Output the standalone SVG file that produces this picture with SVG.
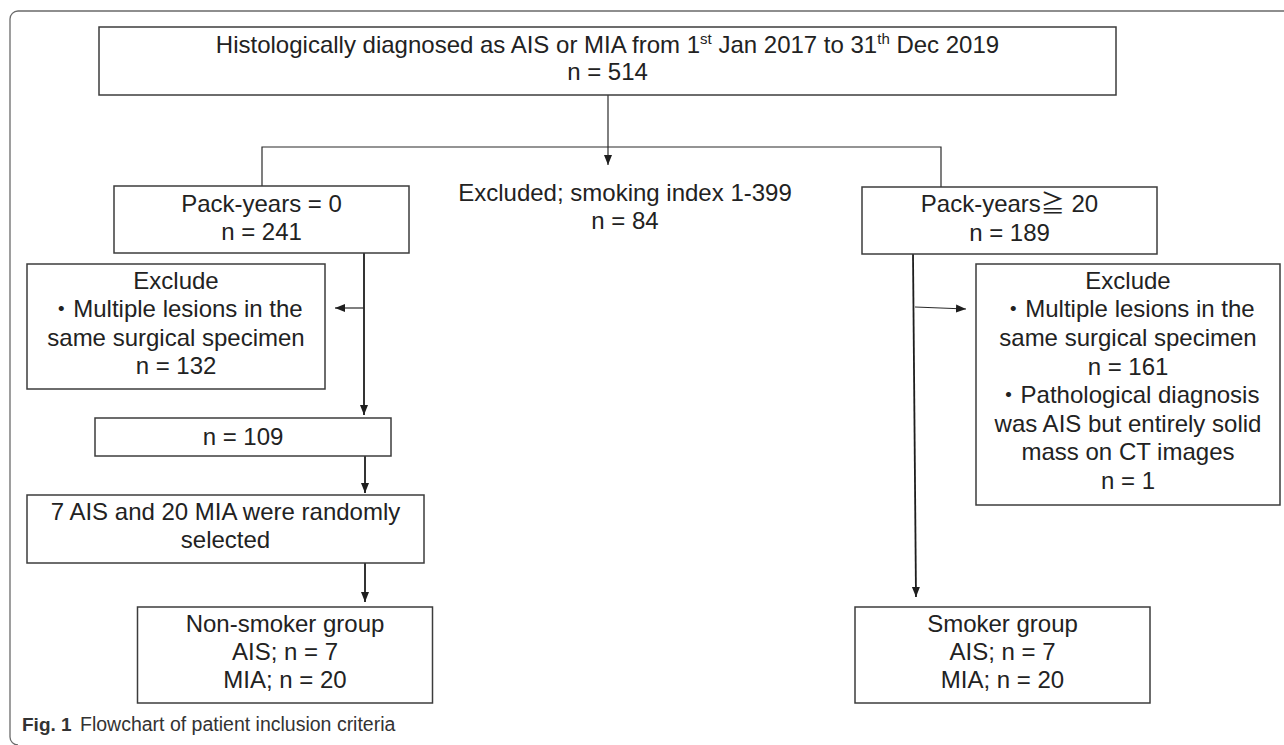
<svg xmlns="http://www.w3.org/2000/svg" width="1284" height="745" viewBox="0 0 1284 745">
  <style>
    .box { fill: #ffffff; stroke: #3c3c3c; stroke-width: 1.5; }
    .frame { fill: none; stroke: #6a6a6a; stroke-width: 1.3; }
    .edge { fill: none; stroke: #1e1e1e; stroke-width: 1.8; }
    .thin { fill: none; stroke: #2a2a2a; stroke-width: 1.2; }
    .t { font-family: "Liberation Sans", "Noto Sans CJK JP", sans-serif; font-size: 24px; fill: #222222; text-anchor: middle; }
    .cap { font-family: "Liberation Sans", "Noto Sans", sans-serif; font-size: 19.5px; fill: #333333; }
    .capb { font-family: "Liberation Sans", "Noto Sans", sans-serif; font-size: 19px; font-weight: bold; fill: #333333; }
  </style>
  <defs>
    <marker id="arrow" markerUnits="userSpaceOnUse" markerWidth="10" markerHeight="10" viewBox="0 0 10 10" refX="10" refY="5" orient="auto">
      <path d="M0,1 L10,5 L0,9 Z" fill="#1e1e1e"/>
    </marker>
  </defs>

  <rect width="1284" height="745" fill="#ffffff"/>
  <path class="frame" d="M1284,11 H18 A8,8 0 0 0 10,19 V737 A8,8 0 0 0 18,745"/>

  <g id="connectors">
    <line class="thin" x1="608" y1="95" x2="608" y2="165" marker-end="url(#arrow)"/>
    <polyline class="thin" points="262,186 262,147 941,147 941,187"/>
    <line class="edge" x1="364" y1="253" x2="364" y2="415" marker-end="url(#arrow)"/>
    <line class="thin" x1="364" y1="308" x2="335" y2="308" marker-end="url(#arrow)"/>
    <line class="edge" x1="365" y1="456" x2="365" y2="493" marker-end="url(#arrow)"/>
    <line class="edge" x1="365" y1="563" x2="365" y2="602" marker-end="url(#arrow)"/>
    <line class="edge" x1="913" y1="254" x2="916" y2="597" marker-end="url(#arrow)"/>
    <line class="thin" x1="915" y1="307" x2="966" y2="309" marker-end="url(#arrow)"/>
  </g>

  <g id="node-all">
    <rect class="box" x="99" y="27" width="1017" height="68"/>
    <text class="t" x="607.5" y="53">Histologically diagnosed as AIS or MIA from 1<tspan font-size="15" dy="-9">st</tspan><tspan dy="9"> Jan 2017 to 31</tspan><tspan font-size="15" dy="-9">th</tspan><tspan dy="9"> Dec 2019</tspan></text>
    <text class="t" x="607.5" y="80">n = 514</text>
  </g>

  <g id="node-nonsmoker-initial">
    <rect class="box" x="114" y="186" width="295" height="67"/>
    <text class="t" x="261.5" y="212">Pack-years = 0</text>
    <text class="t" x="261.5" y="240">n = 241</text>
  </g>

  <g id="node-excluded-index">
    <text class="t" x="625" y="201">Excluded; smoking index 1-399</text>
    <text class="t" x="625" y="229">n = 84</text>
  </g>

  <g id="node-smoker-initial">
    <rect class="box" x="862" y="187" width="295" height="67"/>
    <text class="t" x="1009.5" y="212">Pack-years≧ 20</text>
    <text class="t" x="1009.5" y="241">n = 189</text>
  </g>

  <g id="node-exclude-left">
    <rect class="box" x="27" y="264" width="298" height="125"/>
    <text class="t" x="176" y="289">Exclude</text>
    <text class="t" x="176" y="317">・Multiple lesions in the</text>
    <text class="t" x="176" y="346">same surgical specimen</text>
    <text class="t" x="176" y="374">n = 132</text>
  </g>

  <g id="node-n109">
    <rect class="box" x="95" y="418" width="296" height="38"/>
    <text class="t" x="243" y="445">n = 109</text>
  </g>

  <g id="node-random">
    <rect class="box" x="27" y="495" width="397" height="68"/>
    <text class="t" x="225.5" y="520">7 AIS and 20 MIA were randomly</text>
    <text class="t" x="225.5" y="548">selected</text>
  </g>

  <g id="node-nonsmoker-group">
    <rect class="box" x="137.5" y="607" width="295" height="96"/>
    <text class="t" x="285" y="632">Non-smoker group</text>
    <text class="t" x="285" y="660">AIS; n = 7</text>
    <text class="t" x="285" y="688">MIA; n = 20</text>
  </g>

  <g id="node-exclude-right">
    <rect class="box" x="976" y="264" width="304" height="241"/>
    <text class="t" x="1128" y="289">Exclude</text>
    <text class="t" x="1128" y="317">・Multiple lesions in the</text>
    <text class="t" x="1128" y="346">same surgical specimen</text>
    <text class="t" x="1128" y="375">n = 161</text>
    <text class="t" x="1128" y="403">・Pathological diagnosis</text>
    <text class="t" x="1128" y="432">was AIS but entirely solid</text>
    <text class="t" x="1128" y="460">mass on CT images</text>
    <text class="t" x="1128" y="489">n = 1</text>
  </g>

  <g id="node-smoker-group">
    <rect class="box" x="855" y="607" width="295" height="96"/>
    <text class="t" x="1002.5" y="632">Smoker group</text>
    <text class="t" x="1002.5" y="660">AIS; n = 7</text>
    <text class="t" x="1002.5" y="688">MIA; n = 20</text>
  </g>

  <g id="caption">
    <text class="capb" x="22" y="731">Fig. 1</text>
    <text class="cap" x="80" y="731">Flowchart of patient inclusion criteria</text>
  </g>
</svg>
